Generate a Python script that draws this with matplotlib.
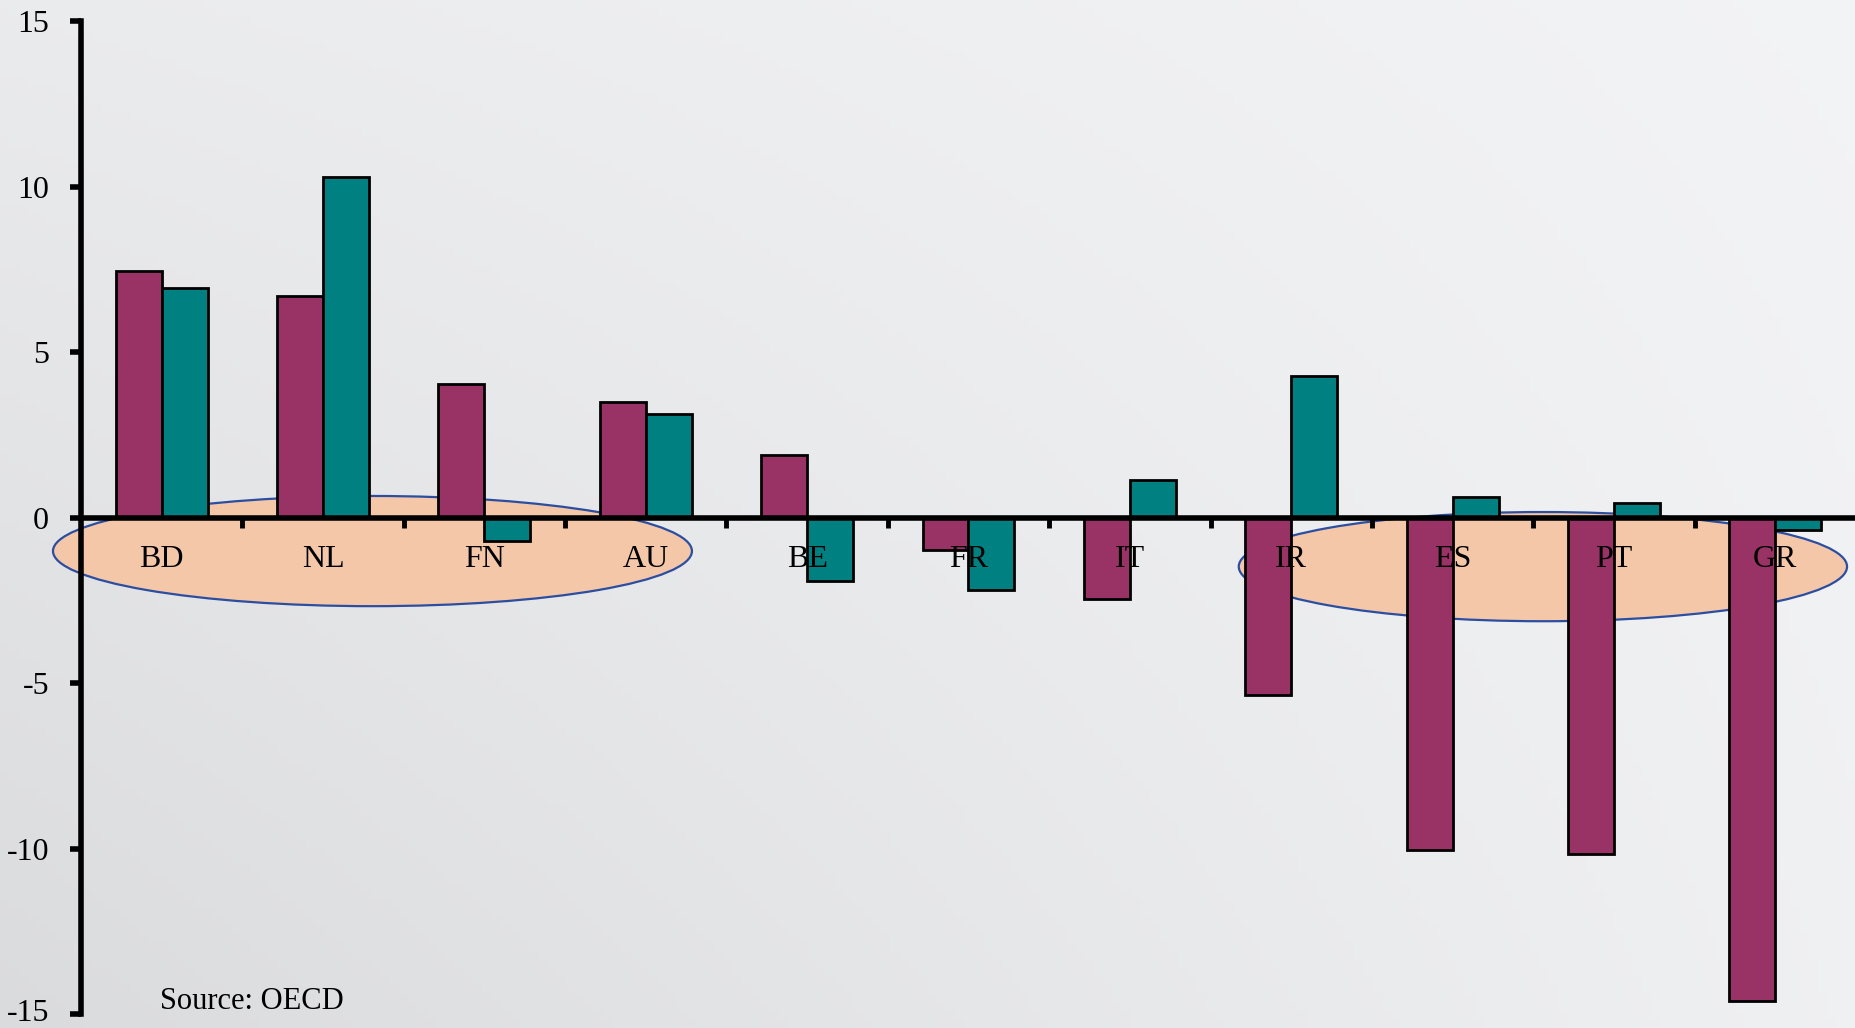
import matplotlib.pyplot as plt
from matplotlib.patches import Ellipse
from matplotlib.transforms import ScaledTranslation
import numpy as np

# Change in the position, per cent of GDP, by country
countries = ["BD", "NL", "FN", "AU", "BE", "FR", "IT", "IR", "ES", "PT", "GR"]
series_a = [7.45, 6.7, 4.05, 3.5, 1.88, -0.98, -2.45, -5.35, -10.03, -10.15, -14.6]
series_b = [6.95, 10.3, -0.7, 3.12, -1.9, -2.2, 1.15, 4.27, 0.62, 0.45, -0.38]
y_ticks = [-15, -10, -5, 0, 5, 10, 15]

color_a = "#993366"
color_b = "#008080"
serif = ["Liberation Serif", "DejaVu Serif"]

fig = plt.figure(figsize=(18.55, 10.28), dpi=100)

# soft grey backdrop, darker towards the lower left
bg = fig.add_axes([0, 0, 1, 1], zorder=-10)
xx, yy = np.meshgrid(np.linspace(0, 1, 200), np.linspace(0, 1, 120))
tl, tr, bl, br = 0.925, 0.958, 0.862, 0.945
shade = (1 - yy) * ((1 - xx) * tl + xx * tr) + yy * ((1 - xx) * bl + xx * br)
bg.imshow(np.dstack([shade - 0.006, shade - 0.003, shade + 0.002]).clip(0, 1),
          aspect="auto", extent=[0, 1, 0, 1], origin="upper")
bg.axis("off")

ax = fig.add_axes([0.0437, 0.0136, 0.9568, 0.9657])
ax.patch.set_alpha(0)

x = np.arange(len(countries)) + 0.5
w = 0.285
ax.bar(x - w / 2, series_a, w, color=color_a, edgecolor="black", linewidth=2, zorder=3)
ax.bar(x + w / 2, series_b, w, color=color_b, edgecolor="black", linewidth=2, zorder=3)

# highlighted groups of countries
for cx, cy, ew, eh in [(1.806, -1.01, 3.96, 3.33), (9.06, -1.48, 3.77, 3.30)]:
    ax.add_patch(Ellipse((cx, cy), ew, eh, facecolor="#f4c7a9",
                         edgecolor="#2c4ea0", linewidth=1.6, zorder=2,
                         clip_on=False))

ax.set_xlim(0, 11)
ax.set_ylim(-15, 15)

for s in ["top", "right", "bottom"]:
    ax.spines[s].set_visible(False)
ax.spines["left"].set_linewidth(4)
ax.spines["left"].set_zorder(4)
ax.axhline(0, color="black", linewidth=4, zorder=4)

# category boundary ticks hanging below the zero line
for b in range(1, len(countries)):
    ax.plot([b, b], [0, -0.3], color="black", linewidth=3.5, zorder=4,
            solid_capstyle="butt")

ax.set_xticks([])
ax.set_yticks(y_ticks)
ax.set_yticklabels([str(t) for t in y_ticks], family=serif, fontsize=23)
ax.tick_params(axis="y", length=8, width=4, pad=15)

# lift the bottom label a touch so it stays inside the figure
lowest = ax.get_yticklabels()[0]
lowest.set_transform(lowest.get_transform()
                     + ScaledTranslation(0, 3 / 72, fig.dpi_scale_trans))

for xi, name in zip(x, countries):
    ax.text(xi, -1.25, name, ha="center", va="center", fontsize=23,
            family=serif, zorder=5)

fig.text(0.0862, 0.026, "Source: OECD", ha="left", va="center",
         fontsize=22, family=serif)

fig.savefig("out.png", dpi=100)
